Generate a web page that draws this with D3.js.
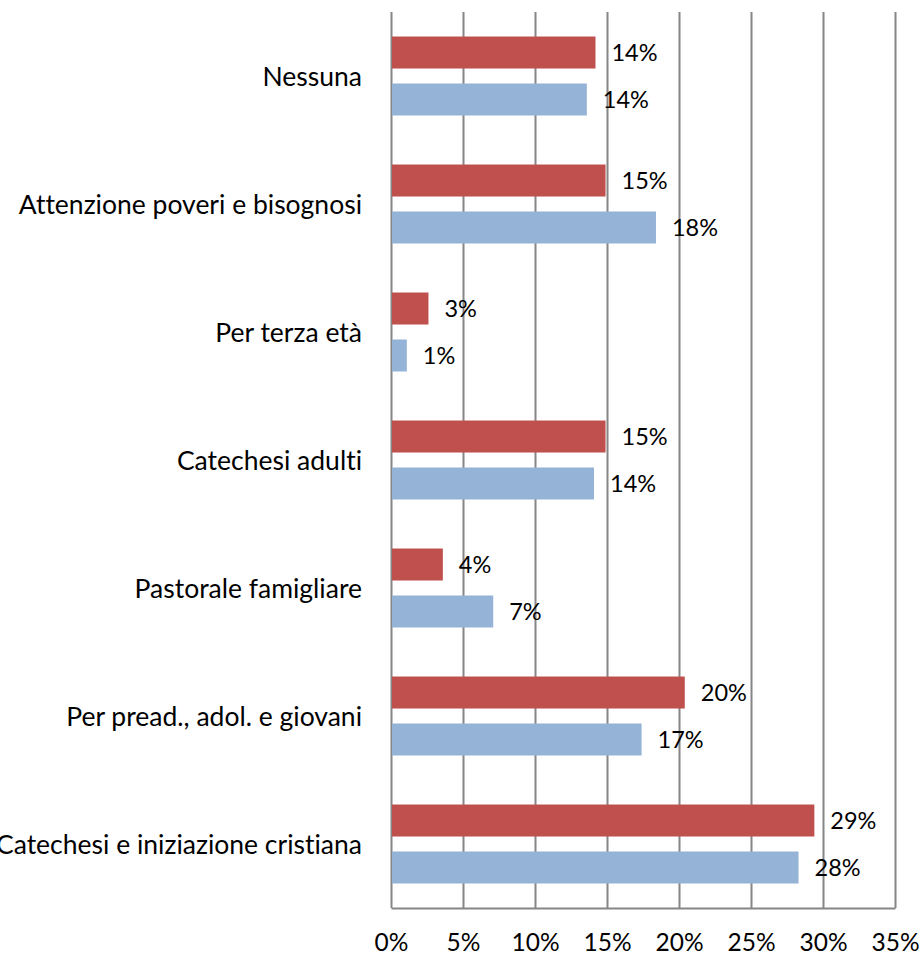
<!DOCTYPE html>
<html>
<head>
<meta charset="utf-8">
<script src="https://cdn.jsdelivr.net/npm/d3@7"></script>
<style>
  body { margin: 0; background: #fff; }
  svg text { font-family: Lato, "Noto Sans", sans-serif; fill: #000; font-variant-ligatures: none; }
</style>
</head>
<body>
<div id="chart"></div>
<script>
// categories from top to bottom
var categories = ["Nessuna", "Attenzione poveri e bisognosi", "Per terza età", "Catechesi adulti",
                  "Pastorale famigliare", "Per pread., adol. e giovani", "Catechesi e iniziazione cristiana"];
var redValues  = [0.142, 0.149, 0.026, 0.149, 0.036, 0.204, 0.294];
var blueValues = [0.136, 0.184, 0.011, 0.141, 0.071, 0.174, 0.283];
var series = ["red", "blue"];
var tickValues = [0, 0.05, 0.10, 0.15, 0.20, 0.25, 0.30, 0.35];
var colors = {red: "#C0504D", blue: "#95B3D7"};

var W = 920, H = 955;
var margin = {t: 12, r: 25, b: 47, l: 391};
var width = W - margin.l - margin.r,
    height = H - margin.t - margin.b;

var svg = d3.select("#chart").append("svg")
    .attr("width", W)
    .attr("height", H);

var plot = svg.append("g")
    .attr("transform", "translate(" + margin.l + "," + margin.t + ")");

var x = d3.scaleLinear().domain([0, 0.35]).range([0, width]);
var y = d3.scaleBand().domain(categories).range([0, height])
    .paddingInner(0.383).paddingOuter(0.1915);
var ySub = d3.scaleBand().domain(series).range([0, y.bandwidth()]).paddingInner(0.319);

// grid + bottom axis
var xAxis = d3.axisBottom(x)
    .tickValues(tickValues)
    .tickFormat(d3.format(".0%"))
    .tickSize(-height)
    .tickSizeOuter(0)
    .tickPadding(26);

var gx = plot.append("g")
    .attr("class", "xAxis")
    .attr("transform", "translate(0," + height + ")")
    .call(xAxis);
gx.selectAll("line").attr("stroke", "#868686").attr("stroke-width", 2);
gx.select(".domain").attr("stroke", "#868686").attr("stroke-width", 2);
gx.selectAll("text").style("font-size", "24.5px").attr("fill", "#000");

var rows = categories.map(function(c, i){
    return {cat: c, values: [{s: "red", v: redValues[i]}, {s: "blue", v: blueValues[i]}]};
});

var groups = plot.selectAll(".cat")
    .data(rows)
    .enter().append("g")
    .attr("class", "cat")
    .attr("transform", function(d){ return "translate(0," + y(d.cat) + ")"; });

groups.selectAll("rect")
    .data(function(d){ return d.values; })
    .enter().append("rect")
    .attr("x", x(0) + 1)
    .attr("y", function(d){ return ySub(d.s); })
    .attr("width", function(d){ return x(d.v) - x(0) - 1; })
    .attr("height", ySub.bandwidth())
    .attr("fill", function(d){ return colors[d.s]; });

groups.selectAll(".lbl")
    .data(function(d){ return d.values; })
    .enter().append("text")
    .attr("class", "lbl")
    .attr("x", function(d){ return x(d.v) + 16; })
    .attr("y", function(d){ return ySub(d.s) + ySub.bandwidth() / 2; })
    .attr("dy", "0.36em")
    .style("font-size", "23.5px")
    .text(function(d){ return Math.round(d.v * 100) + "%"; });

// category labels
plot.selectAll(".catLabel")
    .data(categories)
    .enter().append("text")
    .attr("class", "catLabel")
    .attr("x", -29)
    .attr("y", function(d){ return y(d) + y.bandwidth() / 2; })
    .attr("dy", "0.36em")
    .attr("text-anchor", "end")
    .style("font-size", "26.5px")
    .text(function(d){ return d; });
</script>
</body>
</html>
